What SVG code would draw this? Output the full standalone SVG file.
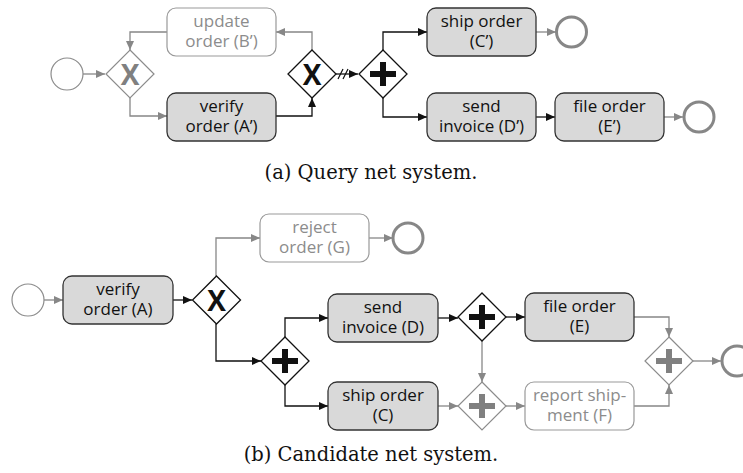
<svg xmlns="http://www.w3.org/2000/svg" width="743" height="473" viewBox="0 0 743 473">
  <defs>
    <marker id="ah-black" markerUnits="userSpaceOnUse" markerWidth="10" markerHeight="10" refX="9" refY="5" orient="auto">
      <path d="M0,1 L9,5 L0,9 z" fill="#111"/>
    </marker>
    <marker id="ah-gray" markerUnits="userSpaceOnUse" markerWidth="10" markerHeight="10" refX="9" refY="5" orient="auto">
      <path d="M0,1 L9,5 L0,9 z" fill="#878787"/>
    </marker>
    <path id="diamond" d="M0,-24 L24,0 L0,24 L-24,0 z"/>
    <path id="cross" d="M-3,-12 H3 V-3 H13 V3 H3 V12 H-3 V3 H-13 V-3 H-3 z"/>
  </defs>
  <style>
    .task { fill: #d9d9d9; stroke: #333; stroke-width: 1.3; }
    .task-off { fill: #fff; stroke: #999; stroke-width: 1.2; }
    .lbl { font-family: "Open Sans", "Noto Sans", sans-serif; font-size: 17px; text-anchor: middle; fill: #111; }
    .lbl-off { fill: #8c8c8c; }
    .gw { fill: #fff; stroke: #111; stroke-width: 1.3; }
    .gw-off { fill: #fff; stroke: #8c8c8c; stroke-width: 1.2; }
    .mark { font-family: "Open Sans", "Noto Sans", sans-serif; font-weight: bold; font-size: 28px; text-anchor: middle; }
    .start { fill: #fff; stroke: #8c8c8c; stroke-width: 1.2; }
    .end { fill: #fff; stroke: #878787; stroke-width: 3; }
    .e { fill: none; stroke: #111; stroke-width: 1.3; marker-end: url(#ah-black); }
    .e-off { fill: none; stroke: #878787; stroke-width: 1.3; marker-end: url(#ah-gray); }
    .cap { font-family: "DejaVu Serif", "Liberation Serif", serif; font-size: 19.5px; text-anchor: middle; fill: #111; }
  </style>

  <!-- (a) query net -->
  <g id="connectors-a">
    <path class="e-off" d="M83,74 H105"/>
    <path class="e-off" d="M167,32 H130 V50"/>
    <path class="e-off" d="M130,98 V116 H167"/>
    <path class="e" d="M276,116 H312 V98"/>
    <path class="e-off" d="M312,50 V32 H276"/>
    <path class="e" d="M336,74 H358"/>
    <path d="M338,79 L343,69 M343,79 L348,69" stroke="#111" stroke-width="1.2" fill="none"/>
    <path class="e" d="M383,50 V32 H427"/>
    <path class="e" d="M383,98 V117 H427"/>
    <path class="e-off" d="M536,32 H556"/>
    <path class="e" d="M536,117 H555"/>
    <path class="e-off" d="M664,117 H683"/>
  </g>

  <g id="start-a"><circle class="start" cx="67" cy="74" r="16"/></g>
  <g id="xor-a1">
    <use href="#diamond" x="130" y="74" class="gw-off"/>
    <text class="mark" x="130" y="84.5" fill="#808080">X</text>
  </g>
  <g id="task-b-prime">
    <rect class="task-off" x="167" y="8" width="109" height="48" rx="9"/>
    <text class="lbl lbl-off" x="221.5" y="26.5">update<tspan x="221.5" dy="20">order (B’)</tspan></text>
  </g>
  <g id="task-a-prime">
    <rect class="task" x="167" y="93" width="109" height="48" rx="9"/>
    <text class="lbl" x="221.5" y="111.5">verify<tspan x="221.5" dy="20">order (A’)</tspan></text>
  </g>
  <g id="xor-a2">
    <use href="#diamond" x="312" y="74" class="gw"/>
    <text class="mark" x="312" y="84.5" fill="#111">X</text>
  </g>
  <g id="and-a">
    <use href="#diamond" x="383" y="74" class="gw"/>
    <use href="#cross" x="383" y="74" fill="#111"/>
  </g>
  <g id="task-c-prime">
    <rect class="task" x="427" y="8" width="109" height="48" rx="9"/>
    <text class="lbl" x="481.5" y="26.5">ship order<tspan x="481.5" dy="20">(C’)</tspan></text>
  </g>
  <g id="task-d-prime">
    <rect class="task" x="427" y="93" width="109" height="48" rx="9"/>
    <text class="lbl" x="481.5" y="111.5">send<tspan x="481.5" dy="20">invoice (D’)</tspan></text>
  </g>
  <g id="task-e-prime">
    <rect class="task" x="555" y="93" width="109" height="48" rx="9"/>
    <text class="lbl" x="609.5" y="111.5">file order<tspan x="609.5" dy="20">(E’)</tspan></text>
  </g>
  <g id="end-a1"><circle class="end" cx="571.5" cy="32" r="15"/></g>
  <g id="end-a2"><circle class="end" cx="699" cy="117" r="15"/></g>

  <text class="cap" x="371" y="179">(a) Query net system.</text>

  <!-- (b) candidate net -->
  <g id="connectors-b">
    <path class="e-off" d="M44,300 H63"/>
    <path class="e" d="M173,300 H192"/>
    <path class="e-off" d="M216,276 V238 H260"/>
    <path class="e-off" d="M369,238 H393"/>
    <path class="e" d="M216,324 V361 H261"/>
    <path class="e" d="M285,337 V318 H328"/>
    <path class="e" d="M285,385 V406 H328"/>
    <path class="e" d="M438,318 H458"/>
    <path class="e" d="M506,317 H525"/>
    <path class="e-off" d="M482,341 V382"/>
    <path class="e-off" d="M438,406 H458"/>
    <path class="e-off" d="M506,406 H525"/>
    <path class="e-off" d="M634,317 H669 V337"/>
    <path class="e-off" d="M634,406 H669 V385"/>
    <path class="e-off" d="M693,361 H721"/>
  </g>

  <g id="start-b"><circle class="start" cx="28" cy="300" r="16"/></g>
  <g id="task-a">
    <rect class="task" x="63" y="276" width="110" height="48" rx="9"/>
    <text class="lbl" x="118" y="294.5">verify<tspan x="118" dy="20">order (A)</tspan></text>
  </g>
  <g id="xor-b">
    <use href="#diamond" x="216.5" y="300" class="gw"/>
    <text class="mark" x="216.5" y="310.5" fill="#111">X</text>
  </g>
  <g id="task-g">
    <rect class="task-off" x="260" y="214" width="109" height="48" rx="9"/>
    <text class="lbl lbl-off" x="314.5" y="232.5">reject<tspan x="314.5" dy="20">order (G)</tspan></text>
  </g>
  <g id="end-g"><circle class="end" cx="408" cy="238" r="15"/></g>
  <g id="and-b1">
    <use href="#diamond" x="285" y="361" class="gw"/>
    <use href="#cross" x="285" y="361" fill="#111"/>
  </g>
  <g id="task-d">
    <rect class="task" x="328" y="294" width="110" height="48" rx="9"/>
    <text class="lbl" x="383" y="312.5">send<tspan x="383" dy="20">invoice (D)</tspan></text>
  </g>
  <g id="task-c">
    <rect class="task" x="328" y="382" width="110" height="48" rx="9"/>
    <text class="lbl" x="383" y="400.5">ship order<tspan x="383" dy="20">(C)</tspan></text>
  </g>
  <g id="and-b2">
    <use href="#diamond" x="482" y="317" class="gw"/>
    <use href="#cross" x="482" y="317" fill="#111"/>
  </g>
  <g id="and-b3">
    <use href="#diamond" x="482" y="406" class="gw-off"/>
    <use href="#cross" x="482" y="406" fill="#808080"/>
  </g>
  <g id="task-e">
    <rect class="task" x="525" y="293" width="109" height="48" rx="9"/>
    <text class="lbl" x="579.5" y="311.5">file order<tspan x="579.5" dy="20">(E)</tspan></text>
  </g>
  <g id="task-f">
    <rect class="task-off" x="525" y="382" width="109" height="48" rx="9"/>
    <text class="lbl lbl-off" x="579.5" y="400.5">report ship-<tspan x="579.5" dy="20">ment (F)</tspan></text>
  </g>
  <g id="and-b4">
    <use href="#diamond" x="669" y="361" class="gw-off"/>
    <use href="#cross" x="669" y="361" fill="#808080"/>
  </g>
  <g id="end-b"><circle class="end" cx="737" cy="361" r="15"/></g>

  <text class="cap" x="371" y="461">(b) Candidate net system.</text>
</svg>
